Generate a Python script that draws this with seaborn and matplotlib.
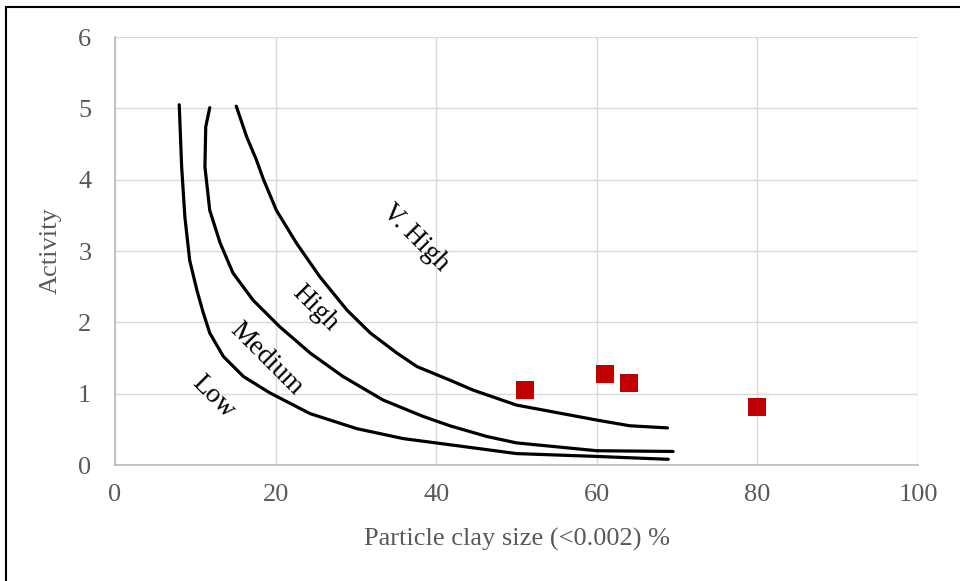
import matplotlib
matplotlib.use("Agg")
import matplotlib.pyplot as plt
from matplotlib.lines import Line2D
import seaborn as sns
import pandas as pd

# Activity boundary curves (clay fraction %, activity)
low_x = [8.0, 8.3, 8.7, 9.3, 10.2, 11.0, 11.8, 13.5, 16.0, 19.3, 24.3, 30.1, 35.9, 41.3, 50.0, 60.0, 68.9]
low_y = [5.05, 4.18, 3.48, 2.87, 2.45, 2.13, 1.85, 1.52, 1.24, 1.01, 0.72, 0.51, 0.37, 0.29, 0.16, 0.12, 0.08]

medium_x = [11.8, 11.3, 11.2, 11.8, 13.1, 14.7, 17.2, 20.5, 24.3, 28.4, 33.4, 38.4, 41.7, 46.3, 50.0, 60.0, 69.5]
medium_y = [5.01, 4.74, 4.18, 3.57, 3.11, 2.69, 2.31, 1.94, 1.57, 1.24, 0.91, 0.68, 0.55, 0.40, 0.31, 0.20, 0.19]

high_x = [15.1, 16.4, 17.6, 18.5, 20.1, 22.6, 25.5, 28.9, 31.8, 35.1, 37.6, 41.7, 44.6, 50.0, 60.0, 64.1, 68.8]
high_y = [5.03, 4.60, 4.28, 4.00, 3.57, 3.11, 2.64, 2.17, 1.85, 1.57, 1.38, 1.19, 1.05, 0.84, 0.63, 0.55, 0.52]

# Measured samples
sample_clay = [51, 61, 64, 80]
sample_activity = [1.05, 1.27, 1.15, 0.82]

# Zone labels
zone_names = ["Low", "Medium", "High", "V. High"]
zone_x = [12.2, 18.9, 24.9, 37.4]
zone_y = [0.96, 1.49, 2.20, 3.18]

x_ticks = [0, 20, 40, 60, 80, 100]
y_ticks = [0, 1, 2, 3, 4, 5, 6]

sns.set_theme(style="white")
plt.rcParams["font.family"] = ["Liberation Serif", "DejaVu Serif"]

fig = plt.figure(figsize=(9.6, 5.81), dpi=100)
ax = fig.add_axes([115 / 960, 1 - 465 / 581, 803 / 960, 428 / 581])

curves = pd.concat([
    pd.DataFrame({"clay": low_x, "activity": low_y, "zone": "Low"}),
    pd.DataFrame({"clay": medium_x, "activity": medium_y, "zone": "Medium"}),
    pd.DataFrame({"clay": high_x, "activity": high_y, "zone": "High"}),
], ignore_index=True)

sns.lineplot(data=curves, x="clay", y="activity", units="zone", estimator=None,
             sort=False, color="black", linewidth=2.3, ax=ax, legend=False,
             solid_capstyle="round", solid_joinstyle="round")

samples = pd.DataFrame({"clay": sample_clay, "activity": sample_activity})
sns.scatterplot(data=samples, x="clay", y="activity", marker="s", s=150,
                color="#C00000", edgecolor="#C00000", linewidth=0, ax=ax,
                zorder=5, legend=False)

for name, zx, zy in zip(zone_names, zone_x, zone_y):
    ax.text(zx, zy, name, rotation=-45, ha="center", va="center",
            fontsize=19.5, color="black", rotation_mode="anchor")

ax.set_xlim(0, 100)
ax.set_ylim(0, 6)
ax.set_xticks(x_ticks)
ax.set_yticks(y_ticks)
ax.grid(True, color="#d9d9d9", linewidth=1.0)
ax.set_axisbelow(True)
for side in ["top", "right"]:
    ax.spines[side].set_visible(False)
for side in ["left", "bottom"]:
    ax.spines[side].set_color("#bfbfbf")
    ax.spines[side].set_linewidth(1.3)

ax.tick_params(axis="both", length=0, labelsize=19, labelcolor="#595959")
ax.tick_params(axis="y", pad=17)
ax.tick_params(axis="x", pad=14)

ax.set_xlabel("Particle clay size (<0.002) %", fontsize=19, color="#595959")
ax.set_ylabel("Activity", fontsize=19, color="#595959")
ax.xaxis.set_label_coords(0.5, -0.148)
ax.yaxis.set_label_coords(-0.066, 0.5)

# Frame edges along the top and left of the canvas
fig.add_artist(Line2D([6 / 960, 1.0], [1 - 7 / 581, 1 - 7 / 581], color="black", linewidth=1.5))
fig.add_artist(Line2D([6 / 960, 6 / 960], [0.0, 1 - 7 / 581], color="black", linewidth=1.5))

fig.savefig("out.png", dpi=100, facecolor="white")
